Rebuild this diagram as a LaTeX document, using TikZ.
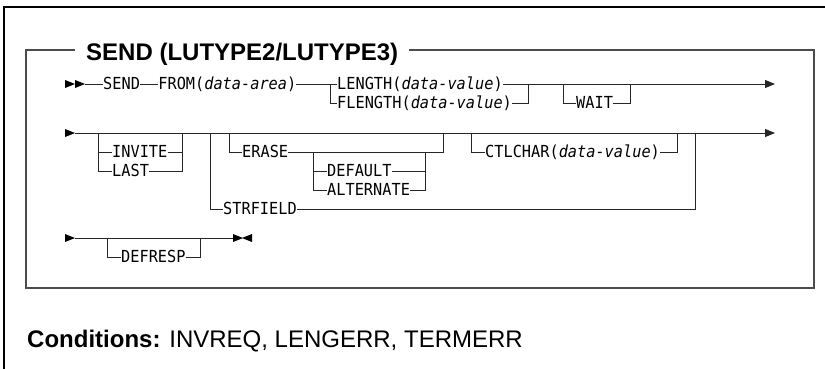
\documentclass[tikz,border=0pt]{standalone}
\usepackage{fontspec}
\setmainfont{Liberation Sans}
\newfontfamily\synfont[FakeStretch=0.92]{DejaVu Sans Mono}
\usetikzlibrary{positioning,arrows.meta}

\begin{document}
\begin{tikzpicture}[
        x=1pt, y=1pt,
        kw/.style={inner sep=0pt, anchor=west, text height=11pt, text depth=0pt, font=\synfont\fontsize{16.6}{19}\selectfont},
        rail/.style={line width=0.9pt, draw=black!85},
        frame/.style={line width=1.5pt, draw=black!70},
        endarrow/.style={-{Triangle[length=10pt,width=8pt]}}
    ]
    \useasboundingbox (0,0) rectangle (825,-369);
    % outer frame and syntax box
    \draw[line width=1.2pt] (4,-369) -- (4,-7) -- (825,-7);
    \draw[frame] (26,-50) rectangle (814,-288);
    \node[fill=white, inner xsep=11pt, inner ysep=0pt, text height=17pt, text depth=0pt, anchor=west, font=\fontsize{24}{28}\selectfont\bfseries] (title) at (75,-52) {SEND (LUTYPE2/LUTYPE3)};

    % start and end marks
    \foreach \x/\y in {65/-84, 75/-84, 65/-133, 65/-238, 233/-238}
        \fill (\x,\y+4) -- (\x+10,\y) -- (\x,\y-4) -- cycle;
    \fill (252,-234) -- (242,-238) -- (252,-242) -- cycle;

    % row 1
    \coordinate (s1) at (85,-84);
    \coordinate (e1) at (775,-84);
    \node[kw] (send) at (103,-84) {SEND};
    \node[kw, right=18pt of send] (from) {FROM(\textit{data-area})};
    \coordinate (j1) at (330,-84);
    \coordinate (j2) at (528,-84);
    \node[kw] (len) at (337,-84) {LENGTH(\textit{data-value})};
    \node[kw] (flen) at (337,-103) {FLENGTH(\textit{data-value})};
    \coordinate (w1) at (563,-84);
    \coordinate (w2) at (630,-84);
    \node[kw] (wait) at (576,-103) {WAIT};
    \draw[rail] (s1) -- (send);
    \draw[rail] (send) -- (from);
    \draw[rail] (from) -- (len);
    \draw[rail, endarrow] (len) -- (e1);
    \draw[rail] (j1) |- (flen) -| (j2);
    \draw[rail] (w1) |- (wait) -| (w2);

    % row 2
    \coordinate (s2) at (75,-133);
    \coordinate (e2) at (775,-133);
    \draw[rail, endarrow] (s2) -- (e2);
    \coordinate (a1) at (98,-133);
    \coordinate (a2) at (182,-133);
    \node[kw] (invite) at (112,-152) {INVITE};
    \node[kw] (last) at (112,-171) {LAST};
    \draw[rail] (a1) |- (last) -| (a2);
    \draw[rail] (a1 |- invite) -- (invite) -- (a2 |- invite);
    \coordinate (b1) at (210,-133);
    \coordinate (b2) at (695,-133);
    \node[kw] (strf) at (223,-209) {STRFIELD};
    \draw[rail] (b1) |- (strf) -| (b2);
    \coordinate (c1) at (229,-133);
    \coordinate (c2) at (443,-133);
    \node[kw] (erase) at (242,-152) {ERASE};
    \draw[rail] (c1) |- (erase) -| (c2);
    \coordinate (d1) at (313,-152);
    \coordinate (d2) at (425,-152);
    \node[kw] (dflt) at (327,-171) {DEFAULT};
    \node[kw] (alt) at (327,-190) {ALTERNATE};
    \draw[rail] (d1) |- (alt) -| (d2);
    \draw[rail] (d1 |- dflt) -- (dflt) -- (d2 |- dflt);
    \coordinate (f1) at (471,-133);
    \coordinate (f2) at (677,-133);
    \node[kw] (ctl) at (485,-152) {CTLCHAR(\textit{data-value})};
    \draw[rail] (f1) |- (ctl) -| (f2);

    % row 3
    \coordinate (s3) at (75,-238);
    \coordinate (e3) at (233,-238);
    \draw[rail] (s3) -- (e3);
    \coordinate (g1) at (107,-238);
    \coordinate (g2) at (200,-238);
    \node[kw] (defr) at (121,-257) {DEFRESP};
    \draw[rail] (g1) |- (defr) -| (g2);

    % conditions
    \node[anchor=base west, inner sep=0pt, font=\fontsize{24}{28}\selectfont] (cond) at (27,-347) {\textbf{Conditions:} INVREQ, LENGERR, TERMERR};
\end{tikzpicture}
\end{document}
